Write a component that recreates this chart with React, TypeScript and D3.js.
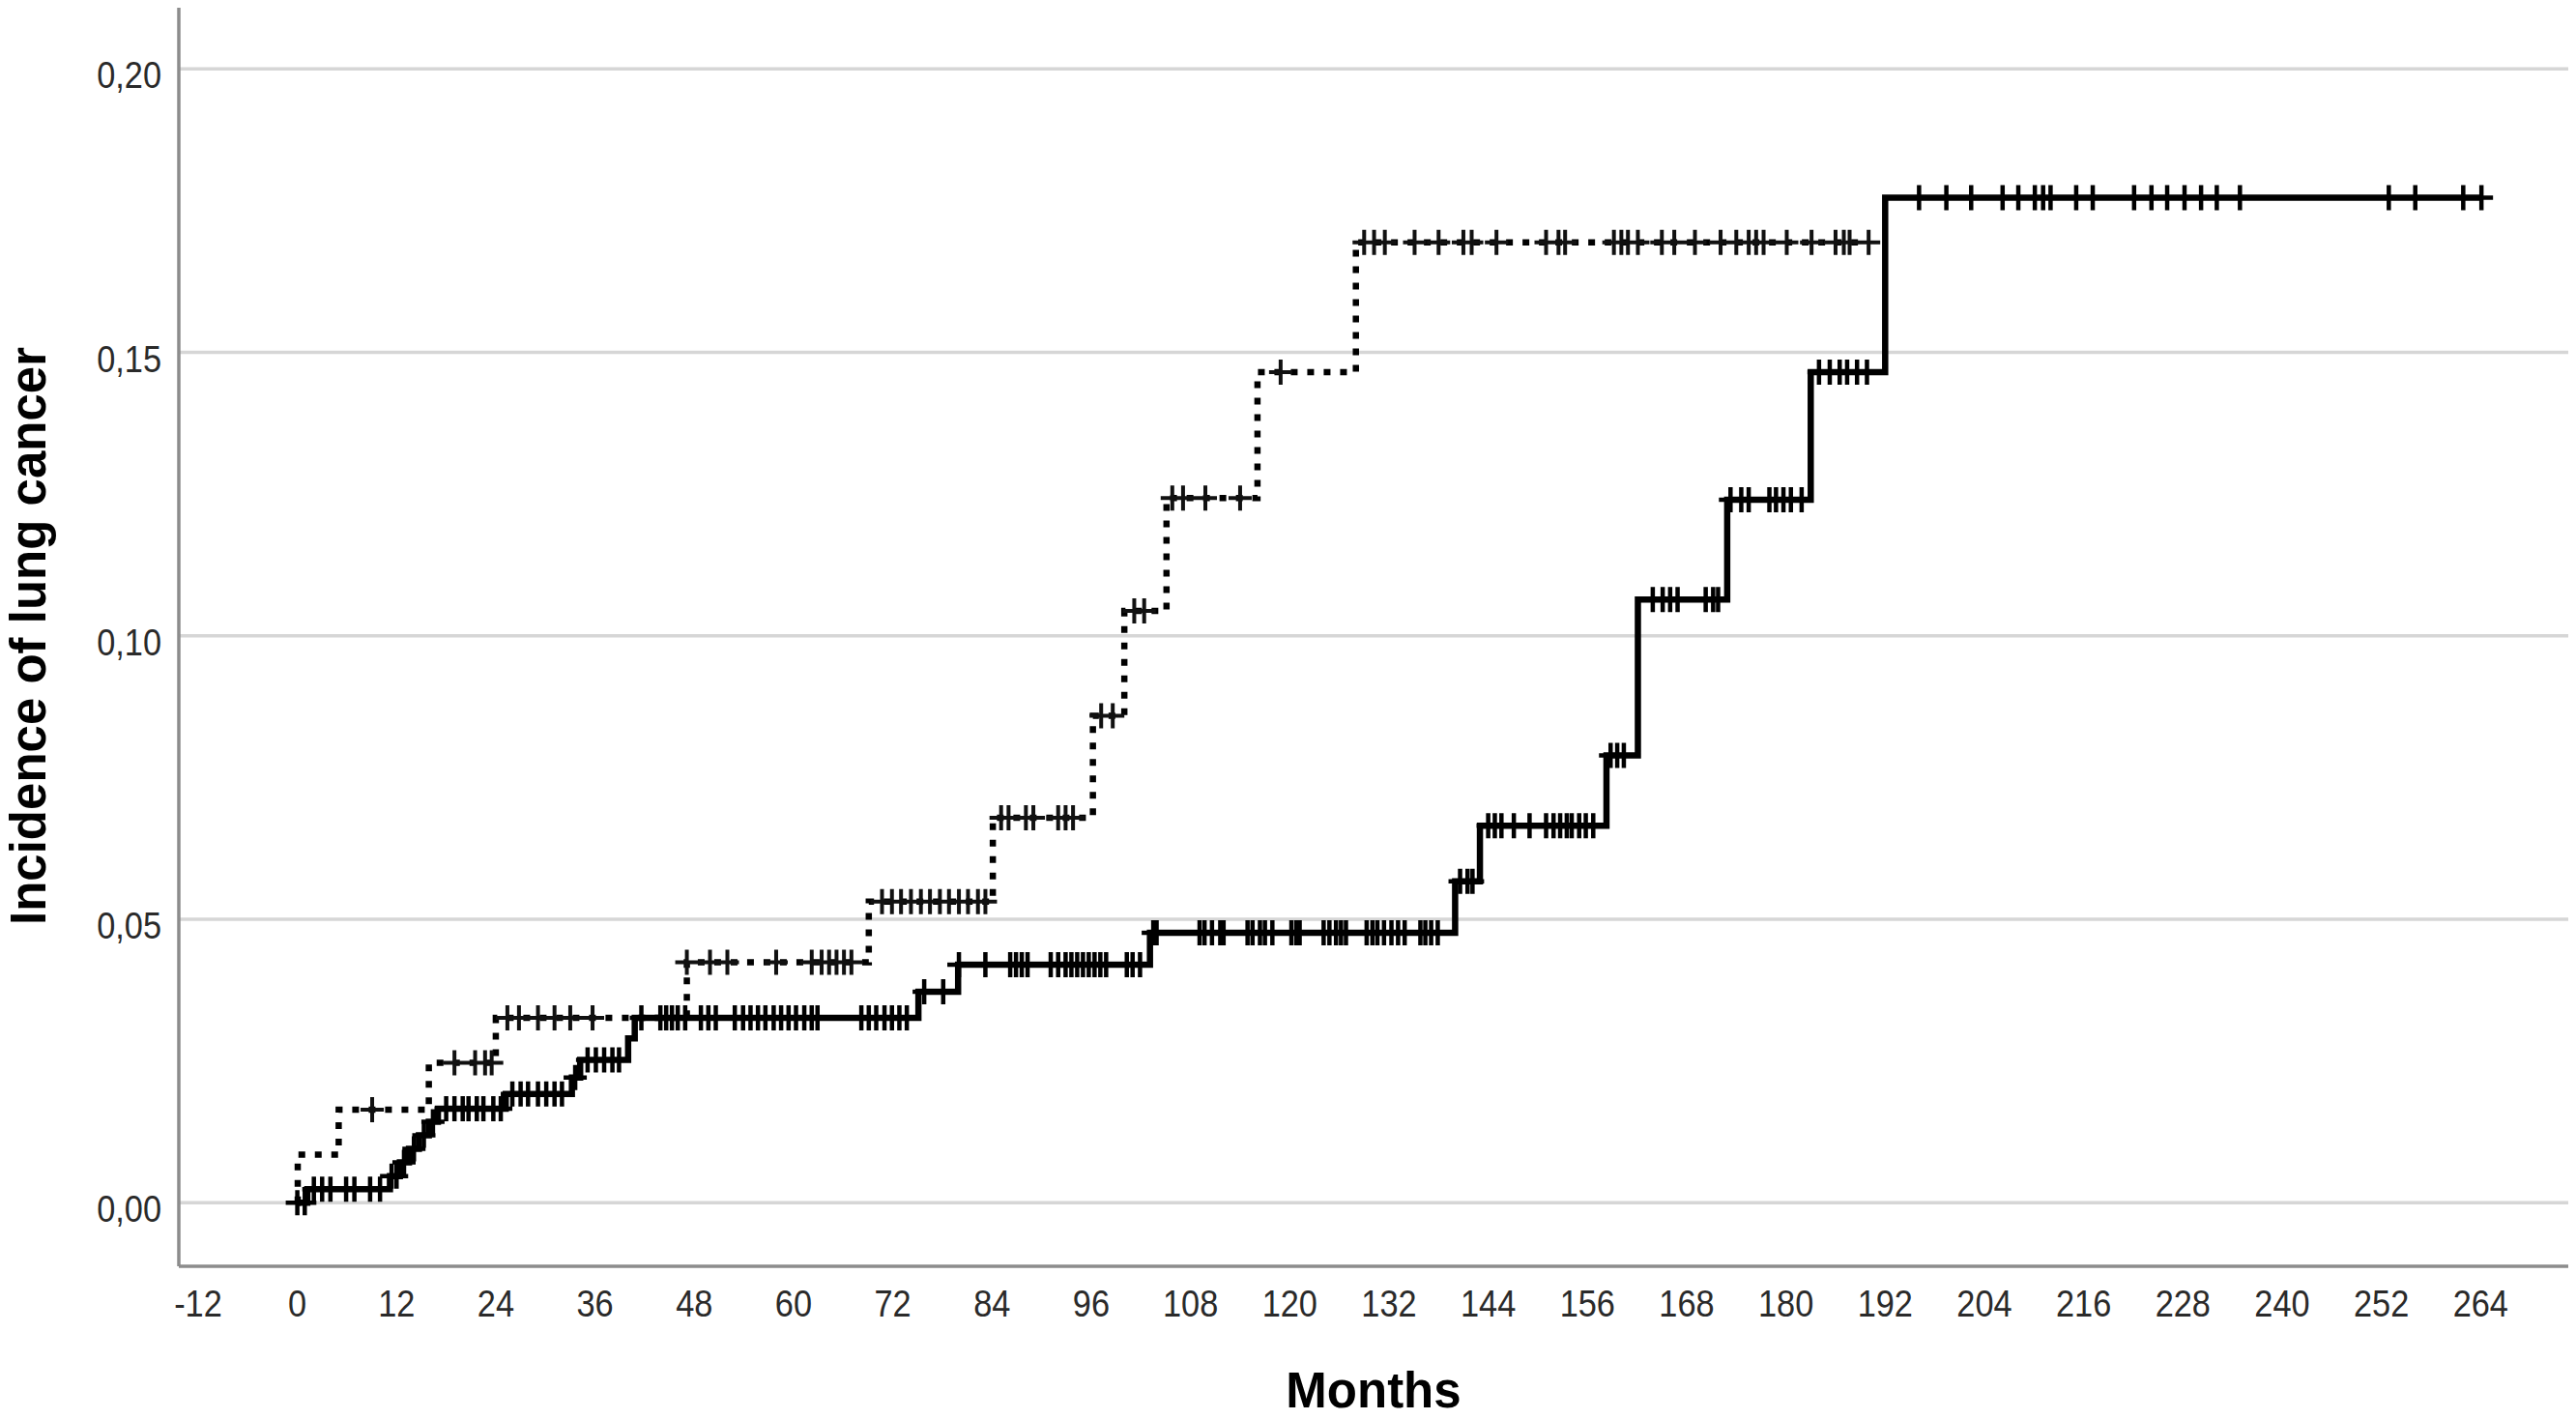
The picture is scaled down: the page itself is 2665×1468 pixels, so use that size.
import * as d3 from "d3";

const WIDTH = 2665;
const HEIGHT = 1468;

// axis ticks
const monthTicks = [-12, 0, 12, 24, 36, 48, 60, 72, 84, 96, 108, 120, 132, 144, 156, 168, 180, 192, 204, 216, 228, 240, 252, 264];
const incidenceTicks = [0, 0.05, 0.1, 0.15, 0.2];
const incidenceLabels = ["0,00", "0,05", "0,10", "0,15", "0,20"];

// solid curve: event times (months) and cumulative incidence after each step
const solidStepMonths = [0, 1.2, 11.2, 12.4, 13.5, 14.7, 15.9, 17.0, 25.2, 33.2, 34.2, 40.0, 40.8, 75.1, 79.9, 103.1, 140.0, 143.0, 158.3, 162.1, 172.9, 183.0, 192.0];
const solidStepIncidence = [0, 0.0024, 0.0047, 0.0071, 0.0095, 0.0119, 0.0143, 0.0166, 0.0192, 0.0221, 0.0252, 0.029, 0.0326, 0.0372, 0.042, 0.0476, 0.0567, 0.0665, 0.0789, 0.1064, 0.124, 0.1465, 0.1773];
const solidLastMonth = 264.1;
const solidCensored = [
  0, 0.9, 2.0, 3.0, 4.0, 5.9, 6.9, 8.8, 10.0, 11.4, 12.0, 12.9, 14.1, 15.3, 16.4,
  18.0, 19.0, 20.0, 20.7, 21.7, 22.5, 23.7, 24.6, 26.0, 27.0, 27.9, 29.1, 30.1, 31.1, 32.0, 33.6,
  35.1, 36.1, 37.1, 38.1, 38.9,
  41.6, 43.9, 44.6, 45.3, 46.0, 46.9, 48.8, 49.7, 50.6, 52.9, 53.9, 54.8, 55.7, 56.6, 57.6, 58.5, 59.4, 60.3, 61.3, 62.2, 62.9,
  68.2, 69.1, 70.0, 71.0, 71.9, 72.8, 73.7, 75.8, 78.1,
  80.0, 83.2, 86.2, 86.9, 87.6, 88.3, 91.1, 92.0, 92.9, 93.6, 94.3, 95.0, 95.7, 96.4, 97.1, 97.8, 100.3, 101.0, 101.9,
  103.5, 103.9, 109.1, 109.7, 110.6, 111.6, 112.0, 114.9, 115.5, 116.4, 117.0, 117.9, 120.2, 120.8, 121.2,
  124.1, 124.8, 125.6, 126.2, 126.8, 129.3, 130.0, 130.6, 131.4, 132.3, 133.1, 133.9, 135.8, 136.4, 137.1, 137.9,
  140.6, 141.5, 142.1, 144.0, 144.8, 145.6, 147.1, 149.0, 151.0, 151.9, 152.7, 153.5, 154.1, 155.0, 155.8, 156.7,
  158.8, 159.6, 160.4, 163.9, 165.1, 166.0, 166.9, 170.3, 171.2, 171.8,
  173.3, 174.6, 175.5, 178.0, 178.8, 179.7, 180.6, 181.9, 184.0, 185.3, 186.5, 187.4, 188.6, 189.8,
  196.1, 199.4, 202.4, 206.2, 208.1, 210.1, 211.1, 212.0, 215.1, 217.1, 222.1, 224.2, 226.1, 228.2, 230.2, 232.1, 234.9,
  252.9, 256.1, 261.9, 264.1,
];

// dotted curve
const dottedStepMonths = [0, 0.05, 5.0, 15.9, 24.0, 47.1, 69.1, 84.1, 96.2, 100.0, 105.1, 116.1, 128.0];
const dottedStepIncidence = [0, 0.0085, 0.0164, 0.0247, 0.0326, 0.0424, 0.0531, 0.0679, 0.0859, 0.1044, 0.1243, 0.1465, 0.1694];
const dottedLastMonth = 190.0;
const dottedCensored = [
  9.05, 19.0, 21.5, 22.7, 23.5, 25.4, 26.8, 29.1, 31.1, 33.0, 35.7,
  47.1, 49.9, 52.0, 57.9, 62.2, 63.4, 64.3, 65.2, 66.1, 67.0,
  70.7, 71.9, 73.0, 74.2, 75.4, 76.5, 77.7, 78.8, 80.0, 81.1, 82.3, 83.2,
  85.1, 86.0, 88.1, 89.0, 92.0, 92.9, 93.8, 97.2, 98.6, 101.2, 102.4,
  105.8, 107.1, 109.8, 114.0, 118.9,
  129.0, 130.2, 131.5, 135.1, 138.0, 141.0, 142.0, 145.0, 151.0, 152.5, 153.3, 159.2, 160.1, 160.9, 162.1,
  165.0, 166.5, 169.0, 172.1, 174.0, 175.5, 176.4, 177.3, 180.1, 183.1, 186.0, 187.0, 187.7, 190.0,
];

const FONT = "'Liberation Sans', Arial, Helvetica, sans-serif";

function stepPoints(months: number[], values: number[], last: number): [number, number][] {
  const pts: [number, number][] = months.map((m, i) => [m, values[i]]);
  pts.push([last, values[values.length - 1]]);
  return pts;
}

function levelAt(months: number[], values: number[], t: number) {
  let v = values[0];
  months.forEach((m, i) => {
    if (m <= t) v = values[i];
  });
  return v;
}

export default function App() {
  const x = d3.scaleLinear().domain([-14.33, 274.6]).range([185, 2657]);
  const y = d3.scaleLinear().domain([-0.01121, 0.2108]).range([1310, 8]);

  const line = d3
    .line<[number, number]>()
    .x((d) => x(d[0]))
    .y((d) => y(d[1]))
    .curve(d3.curveStepAfter);

  const solidPath = line(stepPoints(solidStepMonths, solidStepIncidence, solidLastMonth)) ?? "";
  const dottedPath = line(stepPoints(dottedStepMonths, dottedStepIncidence, dottedLastMonth)) ?? "";

  const cross = (t: number, v: number) => {
    const cx = x(t);
    const cy = y(v);
    return `M${cx - 12},${cy}H${cx + 12}M${cx},${cy - 13}V${cy + 13}`;
  };

  const solidMarks = solidCensored.map((t) => cross(t, levelAt(solidStepMonths, solidStepIncidence, t))).join("");
  const dottedMarks = dottedCensored.map((t) => cross(t, levelAt(dottedStepMonths, dottedStepIncidence, t))).join("");

  const [x0, x1] = x.range();
  const [yBottom, yTop] = y.range();

  return (
    <svg
      width={WIDTH}
      height={HEIGHT}
      viewBox={`0 0 ${WIDTH} ${HEIGHT}`}
      style={{ position: "absolute", left: 0, top: 0, background: "#fff" }}
    >
      <rect width={WIDTH} height={HEIGHT} fill="#fff" />
      {/* gridlines */}
      {incidenceTicks.map((v) => (
        <line key={`g${v}`} x1={x0} x2={x1} y1={y(v)} y2={y(v)} stroke="#d6d6d6" strokeWidth={3.5} />
      ))}
      {/* axes */}
      <line x1={x0} x2={x0} y1={yTop} y2={yBottom} stroke="#8c8c8c" strokeWidth={3.5} />
      <line x1={x0} x2={x1} y1={yBottom} y2={yBottom} stroke="#8c8c8c" strokeWidth={3.5} />

      {/* tick labels */}
      {incidenceTicks.map((v, i) => (
        <text
          key={`yl${v}`}
          transform={`translate(167,${y(v) + 20}) scale(0.88,1)`}
          textAnchor="end"
          fontFamily={FONT}
          fontSize={39}
          fill="#2a2a2a"
        >
          {incidenceLabels[i]}
        </text>
      ))}
      {monthTicks.map((m) => (
        <text
          key={`xl${m}`}
          transform={`translate(${x(m)},1362) scale(0.88,1)`}
          textAnchor="middle"
          fontFamily={FONT}
          fontSize={39}
          fill="#2a2a2a"
        >
          {m}
        </text>
      ))}

      {/* curves */}
      <path d={dottedPath} fill="none" stroke="#000" strokeWidth={6.5} strokeDasharray="7 10" />
      <path d={dottedMarks} fill="none" stroke="#111" strokeWidth={4} />
      <path d={solidPath} fill="none" stroke="#000" strokeWidth={6.5} />
      <path d={solidMarks} fill="none" stroke="#000" strokeWidth={4.5} />

      {/* axis titles */}
      <text
        transform="translate(47,658) rotate(-90)"
        textAnchor="middle"
        fontFamily={FONT}
        fontWeight="bold"
        fontSize={51}
        fill="#000"
      >
        Incidence of lung cancer
      </text>
      <text x={1421} y={1456} textAnchor="middle" fontFamily={FONT} fontWeight="bold" fontSize={51} fill="#000">
        Months
      </text>
    </svg>
  );
}
